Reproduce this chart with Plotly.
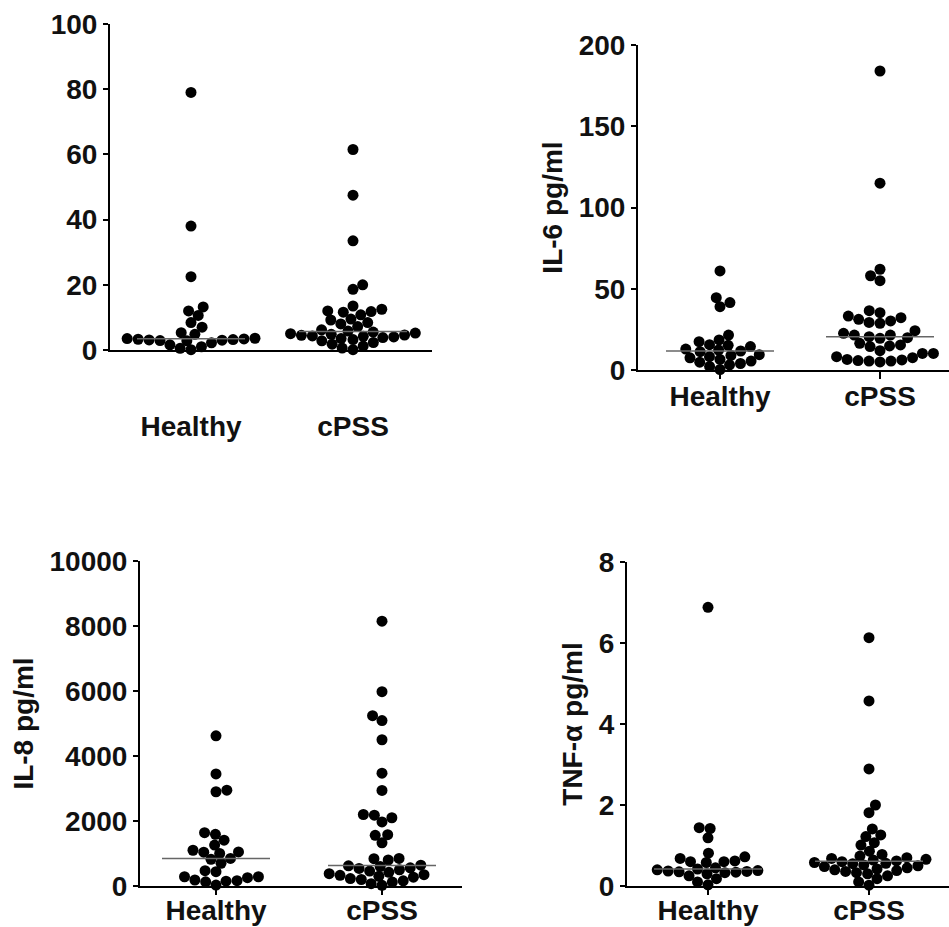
import math
import numpy as np
import plotly.graph_objects as go

# ---------------- data ----------------
groups = ["Healthy", "cPSS"]

p1_healthy = [79.0, 38.0, 22.5, 13.2, 12.0, 10.6, 8.4, 7.0, 5.3, 4.8, 3.6, 3.5, 3.4,
              3.3, 3.2, 3.1, 3.0, 2.9, 2.8, 2.2, 1.6, 1.0, 0.5, 0.1]
p1_cpss = [61.5, 47.5, 33.5, 20.0, 18.6, 13.5, 12.5, 12.0, 11.8, 11.6, 10.8, 9.5, 9.2,
           8.4, 8.0, 7.2, 6.2, 5.8, 5.5, 5.2, 5.0, 4.8, 4.6, 4.5, 4.3, 4.2, 4.0, 3.8,
           3.5, 3.2, 2.8, 2.3, 1.8, 1.2, 0.6, 0.1]

il6_healthy = [61, 44.5, 41.5, 39, 21.5, 18.5, 17.4, 15.6, 15.2, 14.4, 12.9, 12.3, 11.7,
               11.3, 9.4, 9.0, 8.2, 7.5, 6.5, 5.5, 4.8, 4.0, 3.2, 2.2, 0.3]
il6_cpss = [184, 115, 62, 58, 55, 36.5, 35.3, 33.2, 32.2, 31.2, 30.2, 29.3, 28.7, 24.2,
            22.6, 21.5, 21.5, 20.5, 19.9, 19.5, 16.4, 15.4, 14.8, 14.4, 11.9, 10.2, 10.2,
            8.2, 7.6, 6.5, 6.2, 5.8, 5.5, 5.5, 5.0]

il8_healthy = [4620, 3450, 2950, 2900, 1640, 1590, 1410, 1260, 1100, 1050, 1040, 1000,
               850, 820, 700, 470, 440, 285, 285, 255, 185, 165, 150, 130, 30]
il8_cpss = [8150, 5980, 5240, 5090, 4500, 3470, 2940, 2200, 2180, 2100, 1970, 1580, 1560,
            1330, 850, 840, 800, 640, 620, 600, 560, 540, 500, 460, 420, 380, 350, 330,
            300, 270, 230, 200, 160, 120, 70, 20]

tnf_healthy = [6.88, 1.44, 1.42, 1.19, 0.81, 0.72, 0.68, 0.62, 0.60, 0.60, 0.58, 0.45,
               0.42, 0.40, 0.38, 0.37, 0.36, 0.35, 0.34, 0.33, 0.30, 0.25, 0.18, 0.10, 0.03]
tnf_cpss = [6.13, 4.57, 2.89, 2.0, 1.81, 1.41, 1.26, 1.22, 1.07, 1.01, 0.86, 0.78, 0.74,
            0.70, 0.68, 0.66, 0.64, 0.62, 0.60, 0.58, 0.56, 0.55, 0.52, 0.50, 0.48, 0.45,
            0.42, 0.40, 0.38, 0.36, 0.33, 0.30, 0.25, 0.18, 0.10, 0.02]

y_titles = ["", "IL-6 pg/ml", "IL-8 pg/ml", "TNF-\u03b1 pg/ml"]
y_ticks = [[0, 20, 40, 60, 80, 100],
           [0, 50, 100, 150, 200],
           [0, 2000, 4000, 6000, 8000, 10000],
           [0, 2, 4, 6, 8]]

# ---------------- layout geometry (pixels) ----------------
W, H = 949, 927
DOT = 11          # marker diameter (px)
SW_X = 11         # horizontal spacing of dots at equal height (px)
SW_Y = 9.5        # vertical collision distance (px) - dots may overlap like Prism
MED_HALF = 54     # half width of median line (px)
FONT = "Liberation Sans, Arial, sans-serif"
FS = 28

panels = [
    dict(vals=(p1_healthy, p1_cpss), x0=110, x1=432, ytop=24, ybot=350, cx=(191, 353),
         xticks="", xstand=50, title_stand=8),
    dict(vals=(il6_healthy, il6_cpss), x0=638, x1=949, ytop=45, ybot=370, cx=(720, 880),
         xticks="outside", xstand=-7, title_stand=8),
    dict(vals=(il8_healthy, il8_cpss), x0=140, x1=462, ytop=561, ybot=886, cx=(216, 382),
         xticks="outside", xstand=-9, title_stand=8),
    dict(vals=(tnf_healthy, tnf_cpss), x0=627, x1=949, ytop=562, ybot=886, cx=(708, 869),
         xticks="outside", xstand=-9, title_stand=8),
]


def swarm(values, ypx_per_unit, dx_min, dy_min):
    """Greedy beeswarm with elliptical collision; offsets in px, ascending order."""
    vals = np.asarray(values, dtype=float)
    order = np.argsort(vals, kind="stable")
    placed = []
    xs = np.zeros(len(vals))

    def need(dy):
        return dx_min * math.sqrt(max(0.0, 1 - (dy / dy_min) ** 2))

    for n, i in enumerate(order):
        y = vals[i] * ypx_per_unit
        cands = [0.0]
        for (px, py) in placed:
            dy = abs(py - y)
            if dy < dy_min:
                dx = need(dy)
                cands += [px + dx, px - dx]
        pref = 1 if n % 2 == 0 else -1
        cands.sort(key=lambda c: (round(abs(c), 3), -pref * c))
        for c in cands:
            ok = True
            for px, py in placed:
                dy = abs(py - y)
                if dy < dy_min and abs(c - px) < need(dy) - 1e-6:
                    ok = False
                    break
            if ok:
                xs[i] = c
                placed.append((c, y))
                break
    return xs


fig = go.Figure()
layout_axes = {}
for k, p in enumerate(panels):
    sfx = "" if k == 0 else str(k + 1)
    xa, ya = "x" + sfx, "y" + sfx
    ymax = y_ticks[k][-1]
    ppu = p["cx"][1] - p["cx"][0]
    ypu = (p["ybot"] - p["ytop"]) / ymax
    for gi, vals in enumerate(p["vals"]):
        off = swarm(vals, ypu, SW_X, SW_Y)
        fig.add_trace(go.Scatter(
            x=gi + off / ppu, y=vals, mode="markers",
            marker=dict(size=DOT, color="black", line=dict(width=0)),
            cliponaxis=False, xaxis=xa, yaxis=ya, showlegend=False,
            hoverinfo="y"))
    for gi, vals in enumerate(p["vals"]):
        med = float(np.median(vals))
        hw = MED_HALF / ppu
        fig.add_trace(go.Scatter(
            x=[gi - hw, gi + hw], y=[med, med], mode="lines",
            line=dict(color="#666666", width=1.5),
            cliponaxis=False, xaxis=xa, yaxis=ya, showlegend=False,
            hoverinfo="skip"))

    xmin = (p["x0"] - p["cx"][0]) / ppu
    xmax = (p["x1"] - p["cx"][0]) / ppu
    layout_axes["xaxis" + sfx] = dict(
        domain=[p["x0"] / W, p["x1"] / W], range=[xmin, xmax], anchor=ya,
        tickvals=[0, 1], ticktext=groups, showline=True, linecolor="black",
        linewidth=2, ticks=p["xticks"], ticklen=7, tickwidth=2, tickcolor="black",
        showgrid=False, zeroline=False, automargin=False,
        ticklabelstandoff=p["xstand"],
        tickfont=dict(family=FONT, size=FS, color="#111111", weight="bold"))
    layout_axes["yaxis" + sfx] = dict(
        domain=[1 - p["ybot"] / H, 1 - p["ytop"] / H], range=[0, ymax], anchor=xa,
        tickvals=y_ticks[k], tickformat="d", showline=True, linecolor="black",
        linewidth=2, ticks="outside", ticklen=5, tickwidth=2, tickcolor="black",
        showgrid=False, zeroline=False, automargin=False,
        tickfont=dict(family=FONT, size=FS, color="#111111", weight="bold"),
        title=dict(text=y_titles[k], standoff=p["title_stand"],
                   font=dict(family=FONT, size=FS, color="#111111", weight="bold")))

fig.update_layout(
    width=W, height=H, margin=dict(l=0, r=0, t=0, b=0),
    paper_bgcolor="white", plot_bgcolor="white", showlegend=False,
    **layout_axes)

fig.write_html("out.html", config={"displayModeBar": False},
               post_script="document.body.style.margin='0';")
